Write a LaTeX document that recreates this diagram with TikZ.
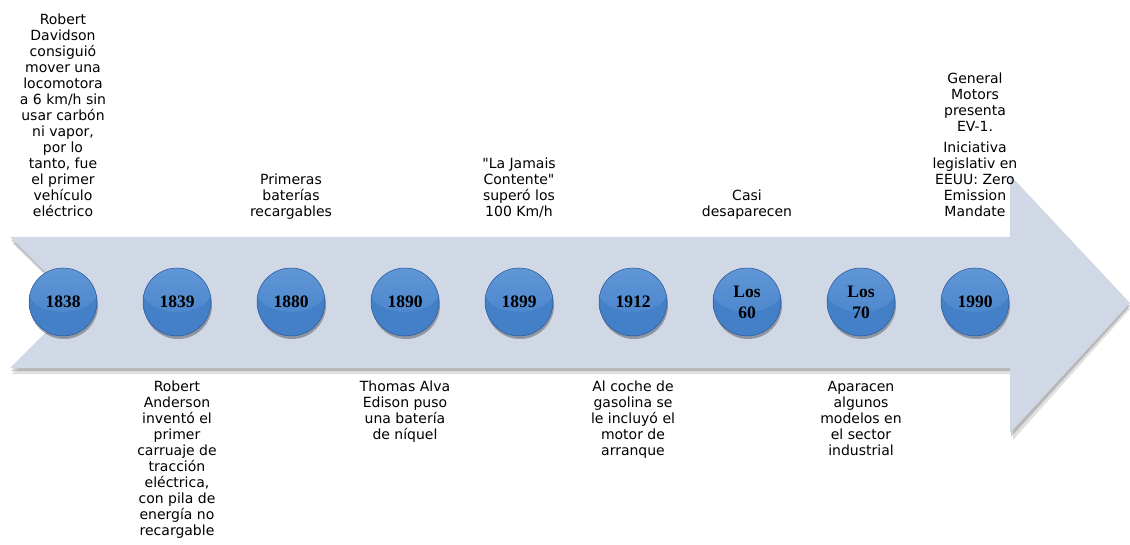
\documentclass[tikz,border=0pt]{standalone}
\usepackage{fontspec}
\setmainfont{Liberation Serif}
\newfontfamily\labfont{DejaVu Sans}
\usetikzlibrary{shadows}
\definecolor{arrowfill}{RGB}{208,216,230}
\definecolor{ballhi}{RGB}{118,168,226}
\definecolor{ballmid}{RGB}{68,128,200}
\definecolor{balledge}{RGB}{42,88,152}
\pgfdeclareradialshading{ballshade}{\pgfpoint{0bp}{3bp}}{color(0bp)=(ballmid); color(38bp)=(ballmid); color(47bp)=(balledge); color(50bp)=(balledge)}
\tikzset{
  yearball/.style={circle, minimum size=68pt, inner sep=0pt, shading=ballshade,
    draw=balledge, line width=0.5pt, font=\bfseries\fontsize{17.5}{21}\selectfont, align=center,
    path picture={\shade[top color=ballhi, bottom color=ballmid, opacity=0.6]
      ([yshift=14pt]path picture bounding box.center) ellipse [x radius=36pt, y radius=24pt];},
    drop shadow={shadow xshift=1pt, shadow yshift=-3pt, opacity=0.3, fill=black}},
  toplabel/.style={anchor=south, inner sep=0pt, text depth=0pt, align=center,
    font=\labfont\fontsize{14}{16}\selectfont},
  botlabel/.style={anchor=north, inner sep=0pt, align=center,
    font=\labfont\fontsize{14}{16}\selectfont}
}
\begin{document}
\begin{tikzpicture}[x=1pt,y=-1pt]
\useasboundingbox (0,0) rectangle (1130,545);
% arrow shadow
\fill[black, opacity=0.12] (12,243) -- (1013,243) -- (1013,181) -- (1130,309) -- (1013,440) -- (1013,374) -- (12,374) -- (78,307) -- cycle;
\fill[black, opacity=0.18] (11,240) -- (1011,240) -- (1011,178) -- (1130,306) -- (1011,437) -- (1011,371) -- (11,371) -- (77,305) -- cycle;
% arrow
\fill[arrowfill] (10,237) -- (1010,237) -- (1010,175) -- (1130,303) -- (1010,433) -- (1010,368) -- (10,368) -- (76,302.5) -- cycle;
% year balls
\node[yearball] (b1838) at (63,302) {1838};
\node[yearball] (b1839) at (177,302) {1839};
\node[yearball] (b1880) at (291,302) {1880};
\node[yearball] (b1890) at (405,302) {1890};
\node[yearball] (b1899) at (519,302) {1899};
\node[yearball] (b1912) at (633,302) {1912};
\node[yearball] (b60) at (747,302) {Los\\60};
\node[yearball] (b70) at (861,302) {Los\\70};
\node[yearball] (b1990) at (975,302) {1990};
% top labels
\node[toplabel] (t1838) at (63,217) {Robert\\Davidson\\consiguió\\mover una\\locomotora\\a 6 km/h sin\\usar carbón\\ni vapor,\\por lo\\tanto, fue\\el primer\\vehículo\\eléctrico};
\node[toplabel] (t1880) at (291,217) {Primeras\\baterías\\recargables};
\node[toplabel] (t1899) at (519,217) {"La Jamais\\Contente"\\superó los\\100 Km/h};
\node[toplabel] (t60) at (747,217) {Casi\\desaparecen};
\node[toplabel] (t1990) at (975,217) {General\\Motors\\presenta\\EV-1.\\[5pt]Iniciativa\\legislativ en\\EEUU: Zero\\Emission\\Mandate};
% bottom labels
\node[botlabel] (l1839) at (177,381) {Robert\\Anderson\\inventó el\\primer\\carruaje de\\tracción\\eléctrica,\\con pila de\\energía no\\recargable};
\node[botlabel] (l1890) at (405,381) {Thomas Alva\\Edison puso\\una batería\\de níquel};
\node[botlabel] (l1912) at (633,381) {Al coche de\\gasolina se\\le incluyó el\\motor de\\arranque};
\node[botlabel] (l70) at (861,381) {Aparacen\\algunos\\modelos en\\el sector\\industrial};
\end{tikzpicture}
\end{document}
